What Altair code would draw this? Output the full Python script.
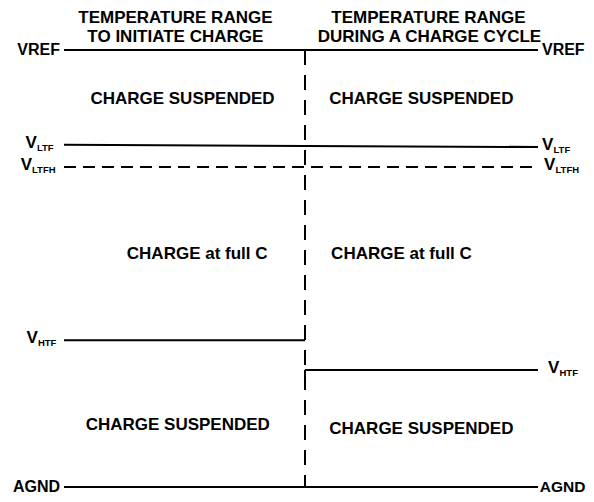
import altair as alt
import pandas as pd

# Threshold levels (percent of VREF) and zone boundaries (percent of diagram width)
level_names = ["VREF", "VLTF", "VLTFH", "VHTF_init", "VHTF_cycle", "AGND"]
level_left = [100.0, 78.3, 73.2, 33.6, 26.8, 0.0]
level_right = [100.0, 77.8, 73.2, 33.6, 26.8, 0.0]
level_x0 = [0.0, 0.0, 0.0, 0.0, 50.85, 0.0]
level_x1 = [100.0, 100.0, 100.0, 50.85, 100.0, 100.0]
level_dashed = [False, False, True, False, False, False]

divider_x = 50.85
corner_top = 26.8
corner_bottom = 23.6

# Text labels
header_text = ["TEMPERATURE RANGE", "TO INITIATE CHARGE", "TEMPERATURE RANGE", "DURING A CHARGE CYCLE"]
header_x = [23.5, 23.5, 76.9, 77.1]
header_y = [107.4, 102.9, 107.4, 103.0]

region_text = ["CHARGE SUSPENDED", "CHARGE SUSPENDED", "CHARGE at full C", "CHARGE at full C",
               "CHARGE SUSPENDED", "CHARGE SUSPENDED"]
region_x = [25.0, 75.4, 28.1, 71.2, 24.0, 75.4]
region_y = [88.7, 88.7, 53.3, 53.3, 14.2, 13.3]

plain_text = ["VREF", "AGND"]
plain_y = [100.0, 0.0]
plain_left_x = -0.84
plain_right_x = 100.84
agnd_right_end = 110.0

v_sub = ["LTF", "LTFH", "HTF"]
v_left_y = [78.3, 73.2, 33.6]
v_left_x = [-5.7, -6.75, -5.49]
v_right_y = [77.8, 73.2, 26.8]
v_right_vx = [100.84, 101.27, 102.11]
v_right_sx = [103.27, 103.69, 104.54]

XDOM = [-11.81, 110.13]
YDOM = [-1.60, 109.61]
FONT = "Liberation Sans"

xs = alt.Scale(domain=XDOM)
ys = alt.Scale(domain=YDOM)

seg = pd.DataFrame({
    "name": level_names, "x": level_x0, "x2": level_x1,
    "y": level_left, "y2": level_right, "dashed": level_dashed,
})
solid = seg[~seg["dashed"]].drop(columns="dashed")
solid = pd.concat([solid, pd.DataFrame({
    "name": ["corner"], "x": [divider_x], "x2": [divider_x],
    "y": [corner_top], "y2": [corner_bottom]})], ignore_index=True)
dashed_h = seg[seg["dashed"]].drop(columns="dashed")
dashed_v = pd.DataFrame({"name": ["divider"], "x": [divider_x], "x2": [divider_x],
                         "y": [100.0], "y2": [0.0]})


def rules(df, dash=None):
    kw = dict(color="black", strokeWidth=2)
    if dash:
        kw["strokeDash"] = dash
    return alt.Chart(df).mark_rule(**kw).encode(
        x=alt.X("x:Q", scale=xs, axis=None),
        x2="x2:Q",
        y=alt.Y("y:Q", scale=ys, axis=None),
        y2="y2:Q",
    )


def texts(df, align, size, dy=0):
    return alt.Chart(df).mark_text(
        align=align, baseline="middle", font=FONT, fontWeight="bold",
        fontSize=size, color="black", dy=dy,
    ).encode(
        x=alt.X("x:Q", scale=xs, axis=None),
        y=alt.Y("y:Q", scale=ys, axis=None),
        text="t:N",
    )


hdr = pd.DataFrame({"t": header_text, "x": header_x, "y": header_y})
reg = pd.DataFrame({"t": region_text, "x": region_x, "y": region_y})
pl_left = pd.DataFrame({"t": plain_text, "x": [plain_left_x] * 2, "y": plain_y})
pl_right = pd.DataFrame({"t": plain_text[:1], "x": [plain_right_x], "y": plain_y[:1]})
pl_right_agnd = pd.DataFrame({"t": plain_text[1:], "x": [agnd_right_end], "y": plain_y[1:]})
vl = pd.DataFrame({"t": ["V"] * 3, "x": v_left_x, "y": v_left_y})
sl = pd.DataFrame({"t": v_sub, "x": v_left_x, "y": v_left_y})
vr = pd.DataFrame({"t": ["V"] * 3, "x": v_right_vx, "y": v_right_y})
sr = pd.DataFrame({"t": v_sub, "x": v_right_sx, "y": v_right_y})

chart = alt.layer(
    rules(solid),
    rules(dashed_h, [12, 7]),
    rules(dashed_v, [15, 10]),
    texts(hdr, "center", 17),
    texts(reg, "center", 17),
    texts(pl_left, "right", 16),
    texts(pl_right, "left", 16),
    texts(pl_right_agnd, "right", 15.5),
    texts(vl, "right", 17, dy=-2),
    texts(sl, "left", 9.5, dy=3),
    texts(vr, "left", 17, dy=-2),
    texts(sr, "left", 9.5, dy=3),
).properties(
    width=578, height=486, padding=0,
    autosize=alt.AutoSizeParams(type="none"),
    background="white",
).configure_view(stroke=None)

chart.save("out.html", embed_options={"renderer": "svg", "actions": False})
